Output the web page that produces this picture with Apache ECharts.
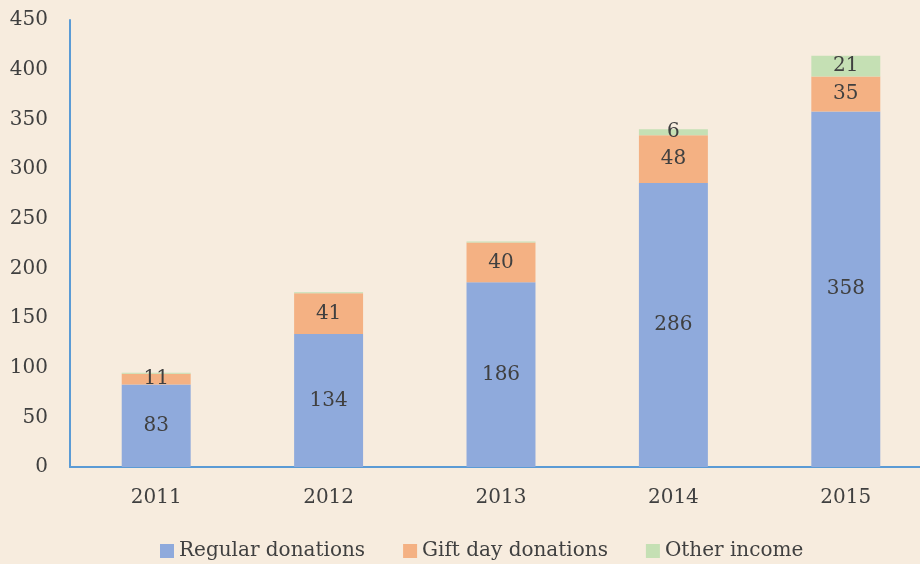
<!DOCTYPE html>
<html>
<head>
<meta charset="utf-8">
<script src="https://cdn.jsdelivr.net/npm/echarts@6/dist/echarts.min.js"></script>
<style>
    html, body { margin: 0; padding: 0; background: #F7ECDE; }
    #chart { width: 920px; height: 564px; }
</style>
</head>
<body>
<div id="chart"></div>
<script>
// data
const years = ['2011', '2012', '2013', '2014', '2015']
const regular = [83, 134, 186, 286, 358]
const giftDay = [11, 41, 40, 48, 35]
const other = [1, 1, 1, 6, 21]

const font = 'DejaVu Serif'
const textColor = '#404040'

// small slivers get no label
const labelFmt = function (p) {
    return p.value >= 3 ? p.value : ''
}

function barSeries(name, data, color) {
    return {
        name: name,
        type: 'bar',
        stack: 'total',
        barCategoryGap: '60%',
        data: data,
        itemStyle: { color: color },
        label: {
            show: true,
            position: 'inside',
            formatter: labelFmt,
            color: textColor,
            fontFamily: font,
            fontSize: 20
        }
    }
}

const chart = echarts.init(document.getElementById('chart'))
chart.setOption({
    backgroundColor: '#F7ECDE',
    animation: false,
    grid: {
        left: 70,
        width: 862,
        top: 20,
        height: 447,
        outerBoundsMode: 'none',
        containLabel: false
    },
    legend: {
        top: 536,
        left: 155,
        itemWidth: 14,
        itemHeight: 14,
        itemGap: 38,
        icon: 'rect',
        textStyle: {
            color: textColor,
            fontFamily: font,
            fontSize: 20
        },
        data: ['Regular donations', 'Gift day donations', 'Other income']
    },
    xAxis: {
        type: 'category',
        data: years,
        axisTick: { show: false },
        axisLine: {
            lineStyle: { color: '#5B9BD5', width: 2 }
        },
        axisLabel: {
            color: textColor,
            fontFamily: font,
            fontSize: 20,
            margin: 21
        }
    },
    yAxis: {
        type: 'value',
        min: 0,
        max: 450,
        interval: 50,
        splitLine: { show: false },
        axisTick: { show: false },
        axisLine: {
            show: true,
            lineStyle: { color: '#5B9BD5', width: 2 }
        },
        axisLabel: {
            color: textColor,
            fontFamily: font,
            fontSize: 20,
            margin: 22
        }
    },
    series: [
        barSeries('Regular donations', regular, '#8FAADC'),
        barSeries('Gift day donations', giftDay, '#F4B183'),
        barSeries('Other income', other, '#C5E0B4')
    ]
})
</script>
</body>
</html>
